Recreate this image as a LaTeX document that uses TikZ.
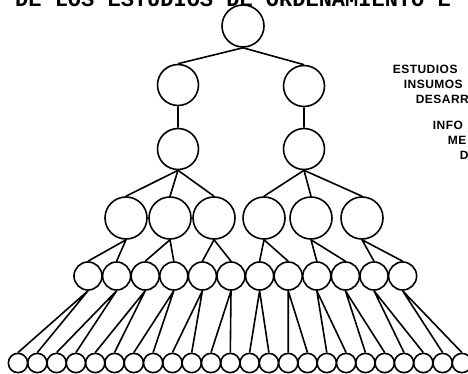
\documentclass[tikz,border=0pt]{standalone}
\usepackage{fontspec}
\setmainfont{Liberation Sans}
\newfontfamily\capfont{Liberation Mono}
\newfontfamily\notefont[LetterSpace=4]{Liberation Sans}

\begin{document}
\begin{tikzpicture}[x=1pt,y=-1pt,line width=1.6pt,
    bub/.style={draw,circle,inner sep=0pt,minimum size=#1},
    lab/.style={anchor=base west,inner sep=0pt,font=\notefont\fontsize{12}{12}\selectfont\bfseries}]
    \useasboundingbox (0,0) rectangle (468,374);
    % title line, cut by the top edge
    \node[anchor=base,inner sep=0pt,font=\capfont\bfseries\fontsize{22}{22}\selectfont] (ttl) at (233,7) {DE LOS ESTUDIOS DE ORDENAMIENTO E};
    % levels of the tree
    \node[bub=42] (r) at (243,26) {};
    \node[bub=41] (a1) at (178,85) {};
    \node[bub=41] (a2) at (304,86) {};
    \node[bub=41] (b1) at (178,149) {};
    \node[bub=41] (b2) at (304,149) {};
    \foreach \x [count=\i] in {126,170,214,264,311,362}
        \node[bub=42] (c\i) at (\x,218) {};
    \foreach \i in {1,...,12}
        \node[bub=28] (d\i) at ({59.4+28.6*\i},276) {};
    \foreach \i in {1,...,24}
        \node[bub=19.3] (e\i) at ({-1.3+19.3*\i},363) {};
    % connectors
    \draw (r.south) -- (a1.north) (r.south) -- (a2.north)
        (a1.south) -- (b1.north) (a2.south) -- (b2.north);
    \foreach \i in {1,2,3} \draw (b1.south) -- (c\i.north);
    \foreach \i in {4,5,6} \draw (b2.south) -- (c\i.north);
    \foreach \i [evaluate=\i as \j using int(2*\i-1), evaluate=\i as \k using int(2*\i)] in {1,...,6}
        \draw (c\i.south) -- (d\j.north) (c\i.south) -- (d\k.north);
    \foreach \i [evaluate=\i as \j using int(2*\i-1), evaluate=\i as \k using int(2*\i)] in {1,...,12}
        \draw (d\i.south) -- (e\j.north) (d\i.south) -- (e\k.north);
    % side notes, cut by the right edge
    \node[lab] (n1) at (392,74) {ESTUDIOS};
    \node[lab] (n2) at (403,89) {INSUMOS};
    \node[lab] (n3) at (415,104) {DESARR};
    \node[lab] (n4) at (432,130) {INFO};
    \node[lab] (n5) at (447,145) {ME};
    \node[lab] (n6) at (459,160) {D};
\end{tikzpicture}
\end{document}
